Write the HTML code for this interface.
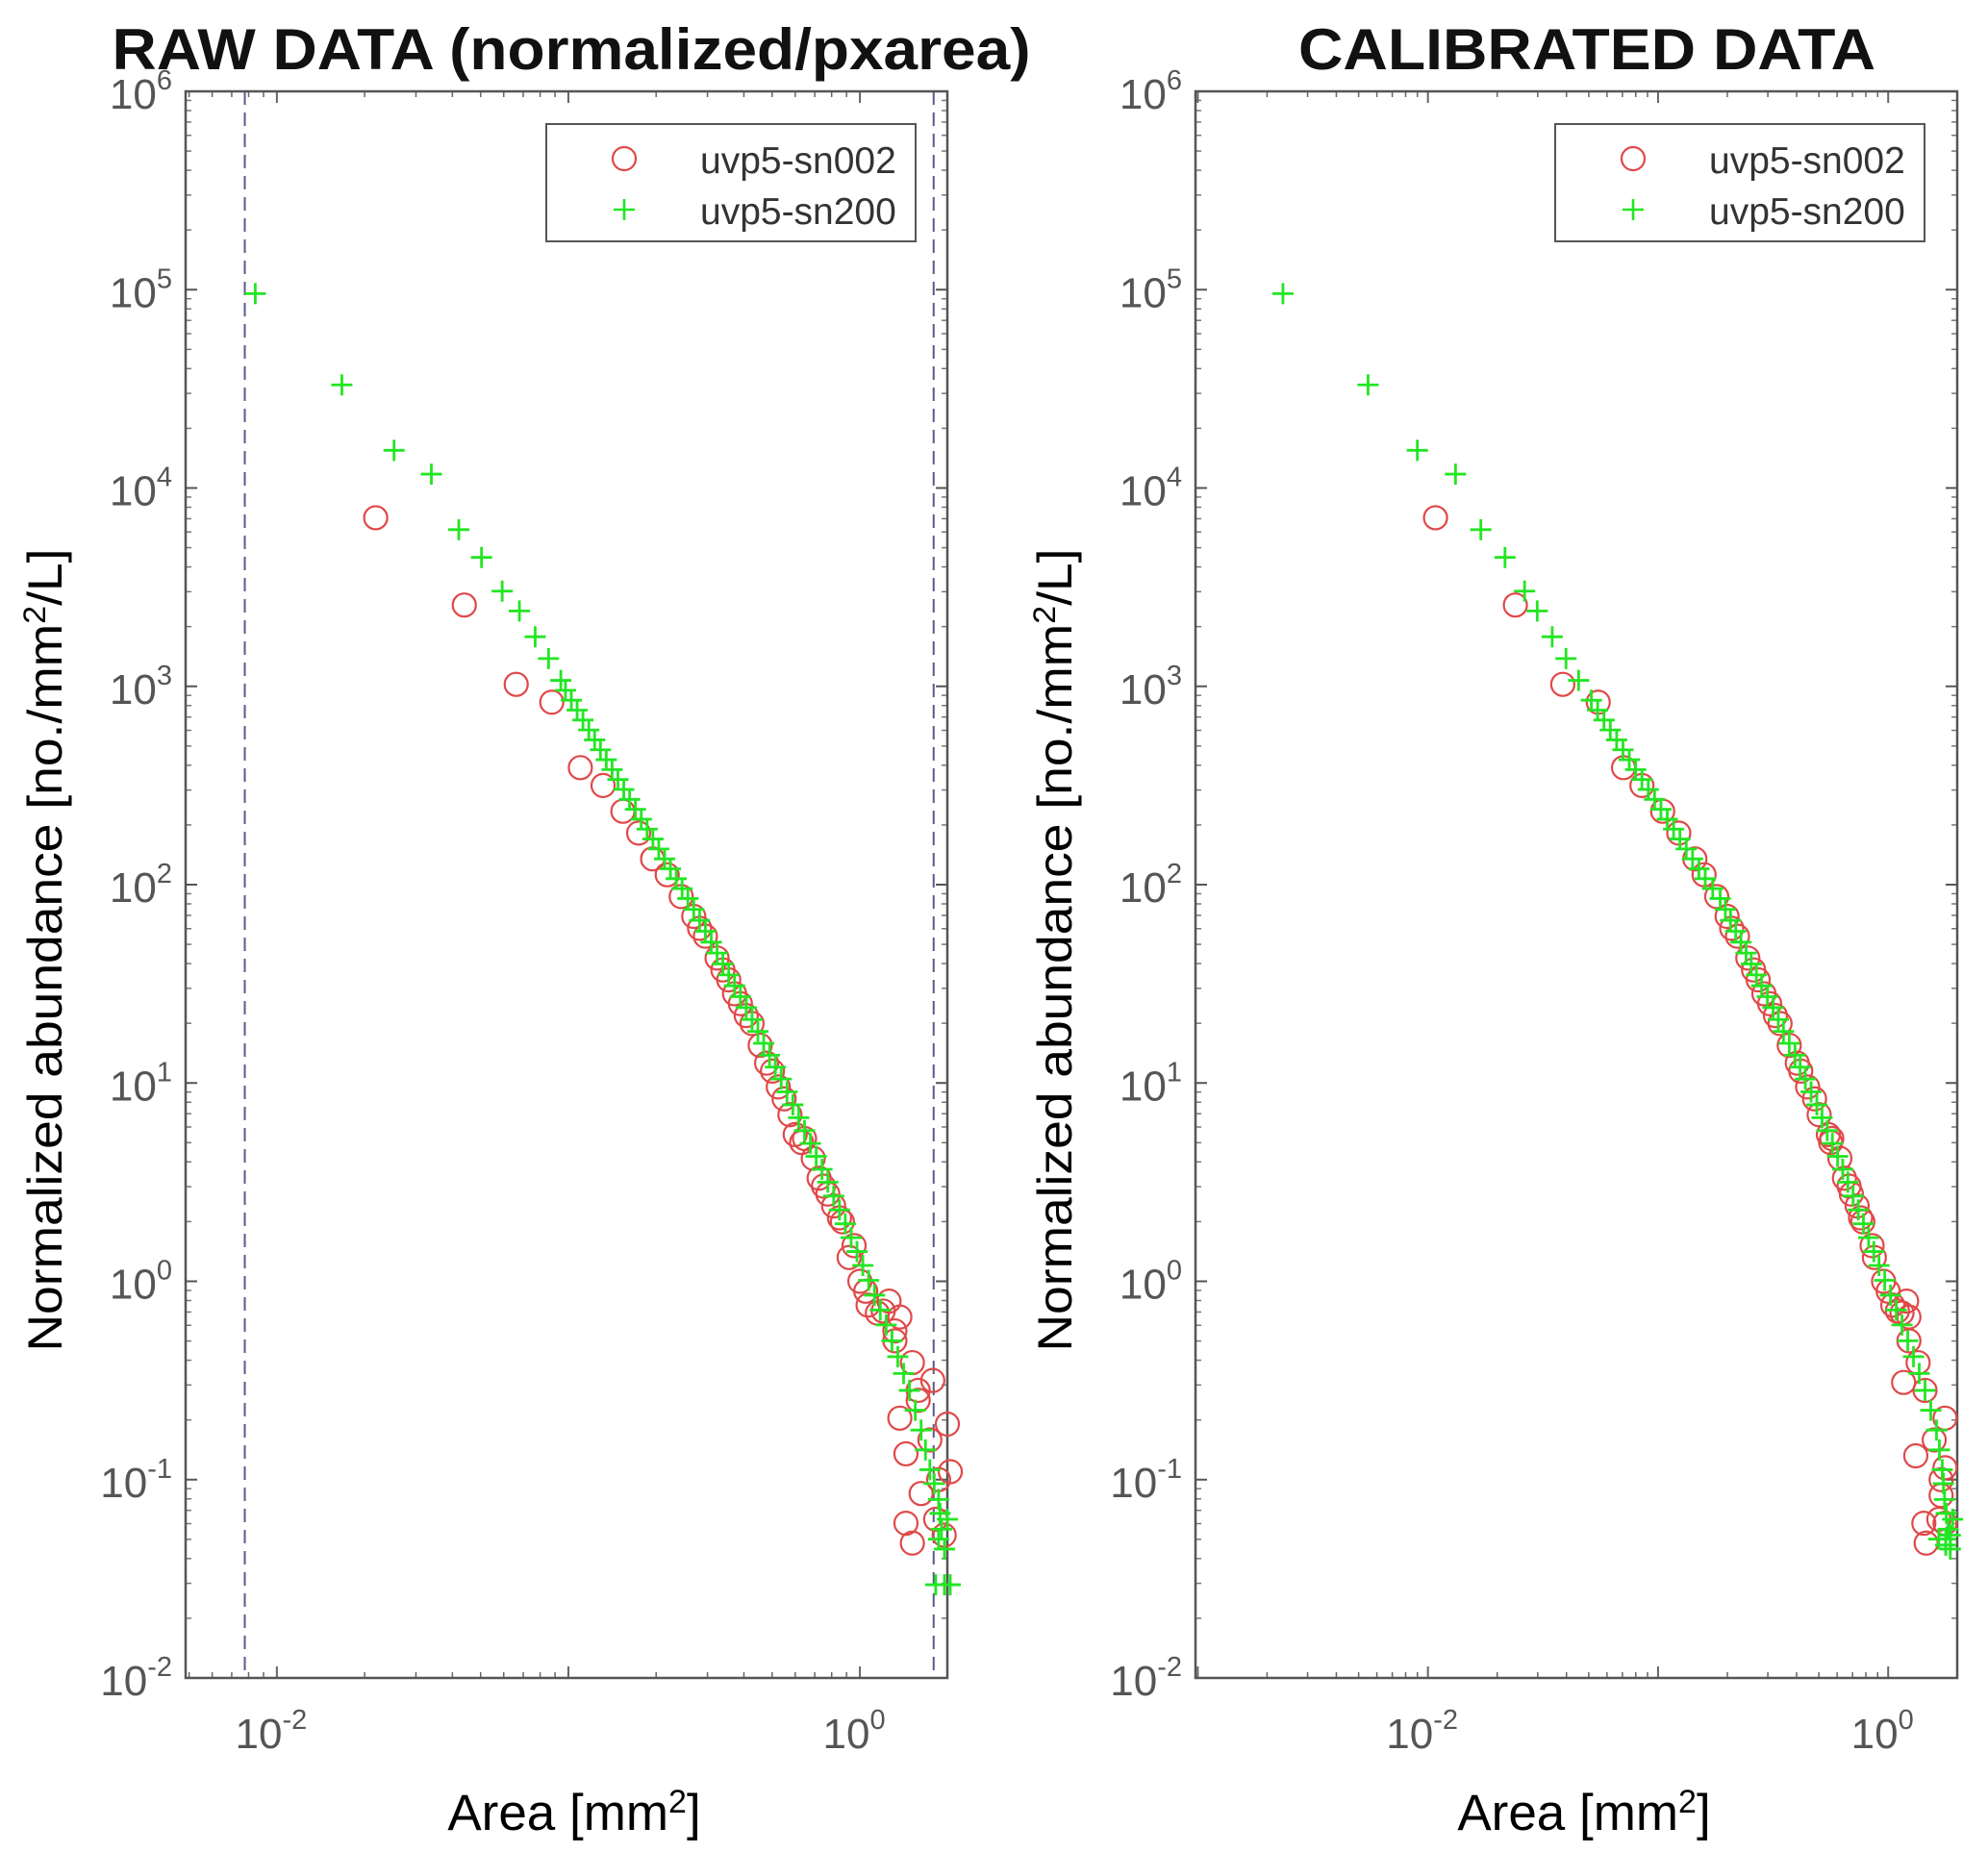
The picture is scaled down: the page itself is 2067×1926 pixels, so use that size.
<!DOCTYPE html>
<html><head><meta charset="utf-8">
<style>
html,body{margin:0;padding:0;background:#fff;}
svg{display:block;}
text{font-family:"Liberation Sans",Arial,sans-serif;}
</style></head>
<body>
<svg id="fig" width="2067" height="1926" viewBox="0 0 2067 1926" xmlns="http://www.w3.org/2000/svg">
<rect x="0" y="0" width="2067" height="1926" fill="#fff"/>
</svg>
<script>
// ---- data (log10 values) ----
// Left panel: RAW DATA
const rawGreenLogArea = [-2.074,-1.777,-1.598,-1.47,-1.376,-1.298,-1.227,-1.168,-1.114,-1.068,-1.026,-0.99,-0.95,-0.91,-0.87,-0.83,-0.79,-0.75,-0.71,-0.67,-0.63,-0.59,-0.55,-0.51,-0.47,-0.43,-0.39,-0.35,-0.31,-0.27,-0.23,-0.19,-0.15,-0.11,-0.07,-0.03,0.01,0.05,0.09,0.13,0.17,0.21,0.24,0.27,0.28,0.29,0.27,0.30,0.29,0.26,0.31,
  -1.01,-0.97,-0.93,-0.89,-0.85,-0.81,-0.77,-0.73,-0.69,-0.65,-0.61,-0.57,-0.53,-0.49,-0.45,-0.41,-0.37,-0.33,-0.29,-0.25,-0.21,-0.17,-0.13,-0.09,-0.05,-0.01,0.03,0.07,0.11,0.15,0.19,0.225,0.255,0.275];
const rawGreenLogAbund = [4.98,4.52,4.19,4.07,3.79,3.65,3.48,3.38,3.25,3.14,3.03,2.93,2.83,2.73,2.63,2.53,2.43,2.33,2.23,2.13,2.03,1.93,1.82,1.71,1.60,1.49,1.38,1.26,1.14,1.02,0.89,0.76,0.63,0.50,0.36,0.22,0.08,-0.07,-0.22,-0.38,-0.55,-0.75,-0.95,-1.10,-1.25,-1.35,-1.30,-1.20,-1.53,-1.53,-1.53,
  2.98,2.88,2.78,2.68,2.58,2.48,2.38,2.28,2.18,2.08,1.98,1.875,1.765,1.655,1.545,1.435,1.32,1.20,1.08,0.955,0.825,0.695,0.565,0.43,0.29,0.15,0.005,-0.145,-0.30,-0.465,-0.65,-0.85,-1.02,-1.17];
const rawRedLogArea = [-1.661,-1.357,-1.179,-1.057,-0.959,-0.881,-0.813,-0.759,-0.711,-0.661,-0.613,-0.57,-0.53,-0.49,-0.45,-0.41,-0.37,-0.342,-0.30,-0.26,-0.222,-0.19,-0.16,-0.125,-0.09,-0.06,-0.037,0.0,0.028,0.06,0.10,0.137,0.18,0.137,0.30,0.158,0.31,0.21,0.158,0.18,0.289,0.25,0.12,0.20,
  -0.55,-0.47,-0.43,-0.39,-0.32,-0.28,-0.24,-0.20,-0.14,-0.11,-0.07,-0.02,0.02,0.08,0.12,0.20,0.24,0.27,0.26];
const rawRedLogAbund = [3.85,3.41,3.01,2.92,2.59,2.50,2.37,2.26,2.13,2.05,1.94,1.84,1.74,1.63,1.52,1.40,1.30,1.19,1.06,0.92,0.74,0.72,0.62,0.48,0.38,0.30,0.12,0.0,-0.12,-0.16,-0.10,-0.18,-0.41,-0.69,-0.72,-0.87,-0.96,-1.07,-1.22,-1.32,-1.28,-0.50,-0.25,-0.60,
  1.78,1.57,1.45,1.34,1.10,0.98,0.84,0.70,0.52,0.44,0.32,0.18,-0.05,-0.15,-0.30,-0.55,-0.80,-1.00,-1.20];
// Right panel: CALIBRATED DATA
const calGreenLogArea = [-2.63,-2.26,-2.046,-1.88,-1.77,-1.665,-1.58,-1.525,-1.46,-1.40,-1.345,-1.29,-1.235,-1.18,-1.125,-1.07,-1.015,-0.96,-0.905,-0.85,-0.795,-0.73,-0.685,-0.64,-0.595,-0.55,-0.50,-0.455,-0.405,-0.36,-0.31,-0.265,-0.22,-0.175,-0.13,-0.085,-0.04,0.01,0.06,0.11,0.16,0.21,0.235,0.245,0.26,0.27,0.25,0.28,0.25,0.22,0.27,
  -1.2625,-1.2075,-1.1525,-1.0975,-1.0425,-0.9875,-0.9325,-0.8775,-0.8225,-0.7625,-0.7075,-0.6625,-0.6175,-0.5725,-0.525,-0.4775,-0.43,-0.3825,-0.335,-0.2875,-0.2425,-0.1975,-0.1525,-0.1075,-0.0625,-0.015,0.035,0.085,0.135,0.185,0.2225,0.24,0.2525];
const calGreenLogAbund = [4.98,4.52,4.19,4.07,3.79,3.65,3.48,3.38,3.25,3.14,3.03,2.93,2.83,2.73,2.63,2.53,2.43,2.33,2.23,2.13,2.03,1.93,1.82,1.71,1.60,1.49,1.38,1.26,1.14,1.02,0.89,0.76,0.63,0.50,0.36,0.22,0.08,-0.07,-0.22,-0.38,-0.55,-0.75,-0.95,-1.10,-1.25,-1.35,-1.30,-1.20,-1.33,-1.30,-1.28,
  2.88,2.78,2.68,2.58,2.48,2.38,2.28,2.18,2.08,1.98,1.875,1.765,1.655,1.545,1.435,1.32,1.20,1.08,0.955,0.825,0.695,0.565,0.43,0.29,0.15,0.005,-0.145,-0.30,-0.465,-0.65,-0.85,-1.02,-1.17];
const calRedLogArea = [-1.967,-1.62,-1.414,-1.26,-1.15,-1.07,-0.98,-0.91,-0.84,-0.80,-0.745,-0.70,-0.655,-0.61,-0.565,-0.515,-0.47,-0.43,-0.38,-0.32,-0.26,-0.245,-0.21,-0.17,-0.135,-0.11,-0.06,-0.02,0.02,0.06,0.08,0.09,0.13,0.067,0.247,0.12,0.247,0.23,0.155,0.165,0.247,
  -0.68,-0.585,-0.54,-0.49,-0.395,-0.35,-0.30,-0.25,-0.19,-0.16,-0.12,-0.07,0.0,0.04,0.09,0.16,0.20,0.23,0.22];
const calRedLogAbund = [3.85,3.41,3.01,2.92,2.59,2.50,2.37,2.26,2.13,2.05,1.94,1.84,1.74,1.63,1.52,1.40,1.30,1.19,1.06,0.92,0.74,0.72,0.62,0.48,0.38,0.30,0.12,0.0,-0.12,-0.16,-0.10,-0.18,-0.41,-0.51,-0.69,-0.88,-0.94,-1.08,-1.22,-1.32,-1.22,
  1.78,1.57,1.45,1.34,1.10,0.98,0.84,0.70,0.52,0.44,0.32,0.18,-0.05,-0.15,-0.30,-0.55,-0.80,-1.00,-1.20];
const yTickExps = [6,5,4,3,2,1,0,-1,-2];
const xLabelExps = [-2,0];
const legendLabels = ["uvp5-sn002","uvp5-sn200"];
const titles = ["RAW DATA (normalized/pxarea)","CALIBRATED DATA"];

const NS = "http://www.w3.org/2000/svg";
const svg = document.getElementById('fig');
function mk(tag, attrs, parent){
  const e = document.createElementNS(NS, tag);
  for (const k in attrs) e.setAttribute(k, attrs[k]);
  (parent||svg).appendChild(e);
  return e;
}

const panels = [
  {L:193, R:985, T:95, B:1745, xmin:-2.313, xmax:0.30, cx:594, titleW:955, legX:568, title:titles[0], dashed:[-2.11,0.253],
   g:[rawGreenLogArea, rawGreenLogAbund], r:[rawRedLogArea, rawRedLogAbund], name:'raw'},
  {L:1243, R:2035, T:95, B:1745, xmin:-3.01, xmax:0.30, cx:1650, titleW:600, legX:1617, title:titles[1], dashed:[],
   g:[calGreenLogArea, calGreenLogAbund], r:[calRedLogArea, calRedLogAbund], name:'calibrated'}
];
const YMIN=-2, YMAX=6;

panels.forEach(p => {
  const xs = v => p.L + (v - p.xmin) / (p.xmax - p.xmin) * (p.R - p.L);
  const ys = v => p.B - (v - YMIN) / (YMAX - YMIN) * (p.B - p.T);
  const g = mk('g', {});
  
  

  // title
  const t = mk('text', {x:p.cx, y:72, 'text-anchor':'middle', 'font-size':60, 'font-weight':'bold', fill:'#111', textLength:p.titleW, lengthAdjust:'spacingAndGlyphs'}, g);
  t.textContent = p.title;
  
  

  // dashed lines
  p.dashed.forEach(d => {
    const l = mk('line', {x1:xs(d), x2:xs(d), y1:p.T, y2:p.B, stroke:'#5a5a8a', 'stroke-width':2, 'stroke-dasharray':'14,8'}, g);
    
    
  });

  // y ticks
  for (let e = YMIN; e <= YMAX; e++) {
    const y = ys(e);
    mk('line', {x1:p.L, x2:p.L+12, y1:y, y2:y, stroke:'#555', 'stroke-width':2}, g);
    mk('line', {x1:p.R, x2:p.R-12, y1:y, y2:y, stroke:'#555', 'stroke-width':2}, g);
    if (e < YMAX) for (let m = 2; m <= 9; m++) {
      const ym = ys(e + Math.log10(m));
      mk('line', {x1:p.L, x2:p.L+6, y1:ym, y2:ym, stroke:'#777', 'stroke-width':1.5}, g);
      mk('line', {x1:p.R, x2:p.R-6, y1:ym, y2:ym, stroke:'#777', 'stroke-width':1.5}, g);
    }
  }
  yTickExps.forEach(e => {
    const tx = mk('text', {x:p.L-14, y:ys(e)+18, 'text-anchor':'end', 'font-size':44, fill:'#555'}, g);
    
    
    tx.innerHTML = '10<tspan dy="-20" font-size="29">' + e + '</tspan>';
  });

  // x ticks
  for (let e = Math.floor(p.xmin); e <= Math.ceil(p.xmax); e++) {
    for (let m = 1; m <= 9; m++) {
      const v = e + Math.log10(m);
      if (v < p.xmin || v > p.xmax) continue;
      const x = xs(v), len = m === 1 ? 12 : 6;
      mk('line', {x1:x, x2:x, y1:p.B, y2:p.B-len, stroke:'#666', 'stroke-width':m===1?2:1.5}, g);
      mk('line', {x1:x, x2:x, y1:p.T, y2:p.T+len, stroke:'#666', 'stroke-width':m===1?2:1.5}, g);
    }
  }
  xLabelExps.forEach(e => {
    const tx = mk('text', {x:xs(e)-6, y:1818, 'text-anchor':'middle', 'font-size':44, fill:'#555'}, g);
    
    
    tx.innerHTML = '10<tspan dy="-20" font-size="29">' + e + '</tspan>';
  });

  // axes box
  const box = mk('rect', {x:p.L, y:p.T, width:p.R-p.L, height:p.B-p.T, fill:'none', stroke:'#555', 'stroke-width':2.5}, g);
  
  

  // axis titles
  const yl = mk('text', {x:0, y:0, 'text-anchor':'middle', 'font-size':50, fill:'#000', transform:'translate(' + (p.L-129) + ',988) rotate(-90)', textLength:835, lengthAdjust:'spacingAndGlyphs'}, g);
  
  
  yl.innerHTML = 'Normalized abundance [no./mm<tspan dy="-17" font-size="32">2</tspan><tspan dy="17">/L]</tspan>';
  const xl = mk('text', {x:(p.L+p.R)/2+8, y:1903, 'text-anchor':'middle', 'font-size':53, fill:'#000'}, g);
  
  
  xl.innerHTML = 'Area [mm<tspan dy="-18" font-size="34">2</tspan><tspan dy="18">]</tspan>';

  // red circles
  p.r[0].forEach((v, i) => {
    const c = mk('circle', {cx:xs(v), cy:ys(p.r[1][i]), r:12, fill:'none', stroke:'#e04848', 'stroke-width':2.2}, g);
    
    
  });
  // green plus
  p.g[0].forEach((v, i) => {
    const x = xs(v), y = ys(p.g[1][i]);
    const pl = mk('path', {d:'M' + (x-11) + ' ' + y + 'H' + (x+11) + 'M' + x + ' ' + (y-11) + 'V' + (y+11), stroke:'#22e622', 'stroke-width':2.8, fill:'none'}, g);
    
    
  });

  // legend
  const lg = mk('g', {}, g);
  
  
  mk('rect', {x:p.legX, y:129, width:384, height:122, fill:'#fff', stroke:'#555', 'stroke-width':2}, lg);
  const lc = mk('circle', {cx:p.legX+81, cy:165, r:12, fill:'none', stroke:'#e04848', 'stroke-width':2.2}, lg);
  
  
  const lp = mk('path', {d:'M' + (p.legX+70) + ' 218H' + (p.legX+92) + 'M' + (p.legX+81) + ' 207V229', stroke:'#22e622', 'stroke-width':2.6}, lg);
  
  
  legendLabels.forEach((s, i) => {
    const tx = mk('text', {x:p.legX+160, y:180 + i*53, 'font-size':39, fill:'#333'}, lg);
    tx.textContent = s;
    
    
  });
});
</script>
</body></html>
